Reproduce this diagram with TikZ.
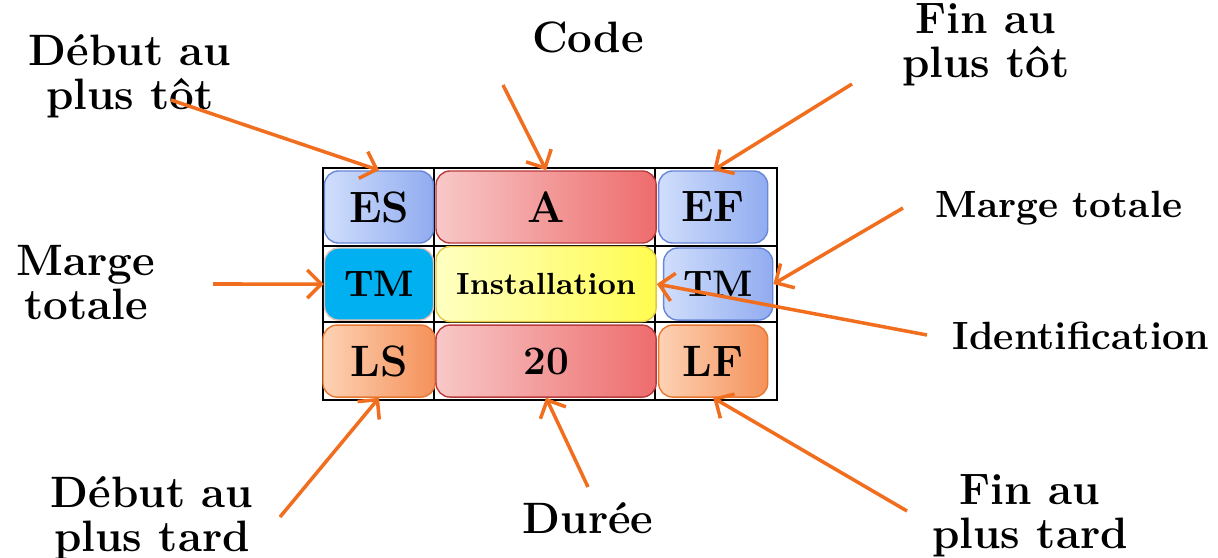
\documentclass[tikz,border=0pt]{standalone}
\usepackage{tikz}
\usetikzlibrary{positioning, arrows.meta}

\definecolor{arrowc}{RGB}{240,110,30}
\definecolor{bluelo}{RGB}{208,222,252}
\definecolor{bluehi}{RGB}{145,172,240}
\definecolor{blueln}{RGB}{105,135,215}
\definecolor{redlo}{RGB}{248,200,200}
\definecolor{redhi}{RGB}{238,108,108}
\definecolor{redln}{RGB}{185,60,60}
\definecolor{yello}{RGB}{255,255,195}
\definecolor{yelhi}{RGB}{255,252,80}
\definecolor{yelln}{RGB}{225,200,70}
\definecolor{orlo}{RGB}{253,210,180}
\definecolor{orhi}{RGB}{245,145,90}
\definecolor{orln}{RGB}{230,120,50}
\definecolor{cyanbox}{RGB}{0,176,240}

\tikzset{
  cell/.style={rounded corners=4pt, minimum height=0.72cm, inner sep=0pt,
    font=\fontsize{12.5}{14}\selectfont\bfseries},
  narrow/.style={cell, minimum width=1.09cm},
  wide/.style={cell, minimum width=2.2cm},
  bluecell/.style={draw=blueln, left color=bluelo, right color=bluehi},
  redcell/.style={draw=redln, left color=redlo, right color=redhi},
  yelcell/.style={draw=yelln, left color=yello, right color=yelhi},
  orcell/.style={draw=orln, left color=orlo, right color=orhi},
  lbl/.style={align=center, font=\fontsize{12.5}{12.5}\selectfont\bfseries},
  fleche/.style={draw=arrowc, line width=1pt, -{Straight Barb[length=4pt,width=8pt]}}
}

\begin{document}
\begin{tikzpicture}[x=0.01cm, y=-0.01cm, node distance=0.77cm and 1.67cm, on grid]
  \useasboundingbox (0,0) rectangle (1218,558);

  % table grid
  \draw[line width=0.6pt] (323,168) rectangle (777,400);
  \draw[line width=0.6pt] (434,168) -- (434,400) (655,168) -- (655,400)
    (323,246) -- (777,246) (323,322) -- (777,322);

  % cells
  \node[narrow, bluecell] (es) at (379,207) {ES};
  \node[wide, redcell] (code) [right=of es] {A};
  \node[narrow, bluecell] (ef) [right=of code] {EF};
  \node[narrow, fill=cyanbox, draw={rgb,255:red,225;green,195;blue,185}, font=\fontsize{10.5}{12}\selectfont\bfseries] (tml) [below=of es] {TM};
  \node[wide, yelcell, minimum height=0.75cm, font=\fontsize{8.7}{10}\selectfont\bfseries] (inst) [below=of code] {Installation};
  \node[narrow, bluecell, font=\fontsize{10.5}{12}\selectfont\bfseries, xshift=0.05cm] (tmr) [below=of ef] {TM};
  \node[narrow, orcell, minimum width=1.12cm] (ls) [below=of tml] {LS};
  \node[wide, redcell, font=\fontsize{11.5}{12}\selectfont\bfseries] (dur) [below=of inst] {20};
  \node[narrow, orcell] (lf) [below=of tmr, xshift=-0.05cm] {LF};

  % labels
  \node[lbl] (ldebtot) at (130,76) {D\'ebut au\\plus t\^ot};
  \node[lbl] (lcode) at (588,37) {Code};
  \node[lbl] (lfintot) at (986,45) {Fin au\\plus t\^ot};
  \node[lbl, font=\fontsize{10.8}{12}\selectfont\bfseries] (lmarger) at (1059,208) {Marge totale};
  \node[lbl] (lmargel) at (86,283) {Marge\\totale};
  \node[lbl, font=\fontsize{11.2}{12}\selectfont\bfseries] (lident) at (1081,336) {Identification};
  \node[lbl] (ldebtard) at (152,518) {D\'ebut au\\plus tard};
  \node[lbl] (lduree) at (588,518) {Dur\'ee};
  \node[lbl] (lfintard) at (1030,516) {Fin au\\plus tard};

  % arrow tails
  \coordinate (tdebtot) at (171,100);
  \coordinate (tcode) at (503,85);
  \coordinate (tfintot) at (852,84);
  \coordinate (tmarger) at (903,208);
  \coordinate (tmargel) at (213,284);
  \coordinate (tident) at (927,335);
  \coordinate (tdebtard) at (280,517);
  \coordinate (tduree) at (588,487);
  \coordinate (tfintard) at (907,511);

  \path
    (tdebtot) edge[fleche] (es.north)
    (tcode) edge[fleche] (code.north)
    (tfintot) edge[fleche] (ef.north)
    (tmarger) edge[fleche] (tmr.east)
    (tmargel) edge[fleche] (tml.west)
    (tident) edge[fleche] (inst.east)
    (tdebtard) edge[fleche] (ls.south)
    (tduree) edge[fleche] (dur.south)
    (tfintard) edge[fleche] (lf.south);
\end{tikzpicture}
\end{document}
